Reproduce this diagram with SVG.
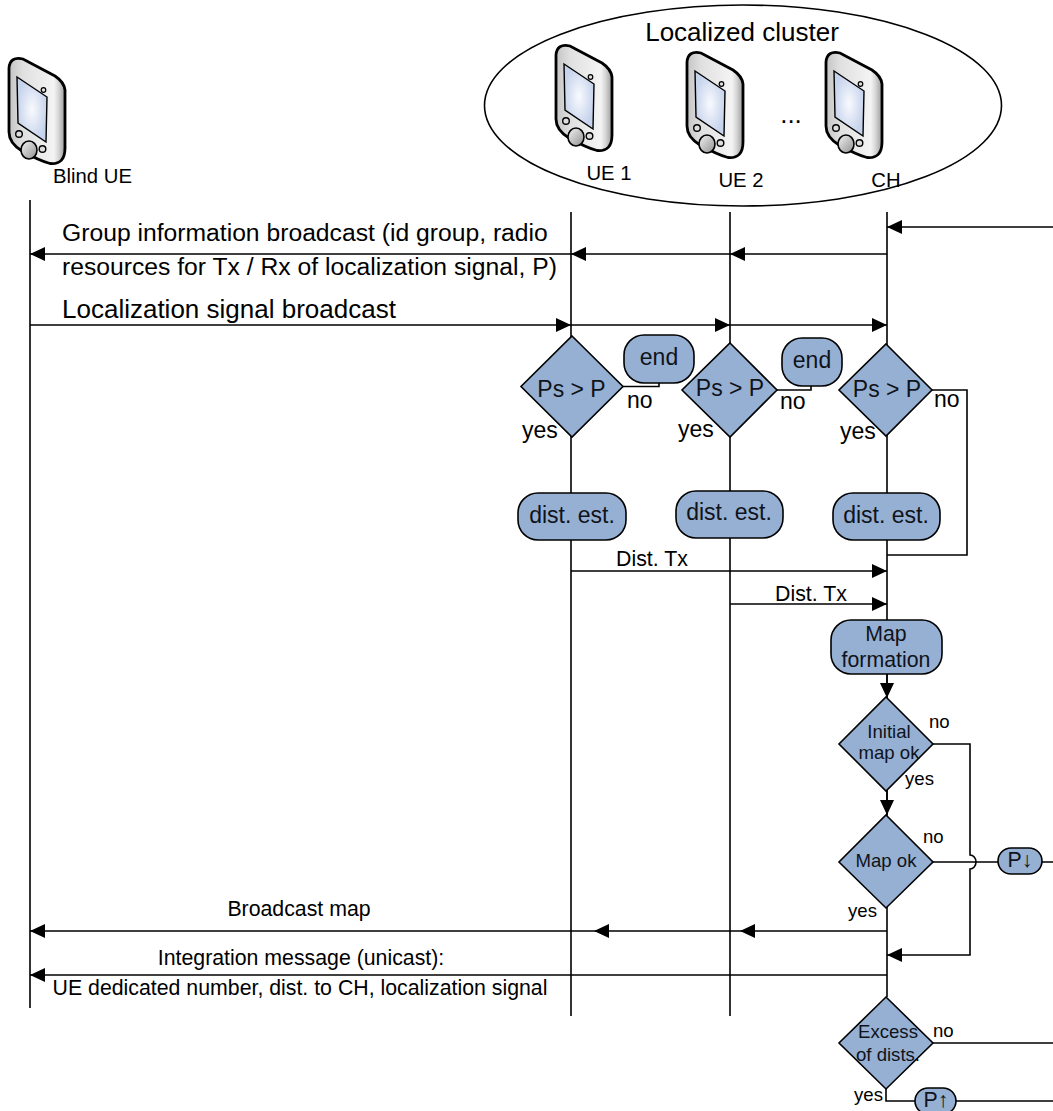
<svg xmlns="http://www.w3.org/2000/svg" width="1053" height="1111" viewBox="0 0 1053 1111">
<style>
text{font-family:"Liberation Sans",Arial,sans-serif;fill:#000}
.m{text-anchor:middle}
.f{fill:#95b0d3;stroke:#000;stroke-width:1.6}
.l{fill:none;stroke:#000;stroke-width:1.6}
.t{fill:#10131a}
.s26{font-size:26px}.s24{font-size:24.700px}.s23{font-size:23px}.s21{font-size:21.300px}.s20{font-size:20.300px}.s18{font-size:18.600px}
</style>
<defs>
<marker id="a" markerUnits="userSpaceOnUse" markerWidth="16" markerHeight="14" refX="15" refY="7" orient="auto"><path d="M0,0L15,7L0,14Z" fill="#000"/></marker>
<linearGradient id="body" x1="0" y1="0" x2="1" y2="0"><stop offset="0" stop-color="#c4c4c4"/><stop offset=".25" stop-color="#e0e0e0"/><stop offset=".8" stop-color="#f4f4f4"/><stop offset=".88" stop-color="#d8d8d8"/><stop offset="1" stop-color="#9c9c9c"/></linearGradient>
<radialGradient id="scr"><stop offset="0" stop-color="#f8fafe"/><stop offset="1" stop-color="#c6d3ec"/></radialGradient>
<linearGradient id="btn" x1="0" y1="0" x2="1" y2="1"><stop offset="0" stop-color="#f4f4f4"/><stop offset="1" stop-color="#8f8f8f"/></linearGradient>
<g id="phone">
<path d="M9,68Q10,56 23,59L55,76Q64,82 65,90V148Q65,165 50,163.500Q40,161 22,151Q9,143 9,132Z" fill="url(#body)" stroke="#000" stroke-width="2.800"/>
<path d="M17,77L47,97L46,142L18,123Z" fill="url(#scr)" stroke="#000" stroke-width="1.400"/>
<ellipse cx="29" cy="150" rx="8" ry="9" fill="url(#btn)" stroke="#000" stroke-width="1.600"/>
<circle cx="19" cy="134" r="3.300" fill="#ddd" stroke="#000" stroke-width="1.400"/>
<circle cx="42.500" cy="149" r="3.300" fill="#ddd" stroke="#000" stroke-width="1.400"/>
<circle cx="43.500" cy="90" r="2.300" fill="#ddd" stroke="#000" stroke-width="1.200"/>
</g>
</defs>
<rect width="1053" height="1111" fill="#fff"/>
<g id="connectors">
<path class="l" d="M30,200V1008M571,212V1016M730,212V1016M887,212V997"/>
<path class="l" d="M1053,227H887" marker-end="url(#a)"/>
<path class="l" d="M887,254H730" marker-end="url(#a)"/>
<path class="l" d="M730,254H571" marker-end="url(#a)"/>
<path class="l" d="M571,254H30" marker-end="url(#a)"/>
<path class="l" d="M30,325H571" marker-end="url(#a)"/>
<path class="l" d="M571,325H730" marker-end="url(#a)"/>
<path class="l" d="M730,325H887" marker-end="url(#a)"/>
<path class="l" d="M623,386.500H659V383"/>
<path class="l" d="M777,390H811V386"/>
<path class="l" d="M932,390H967V555H887"/>
<path class="l" d="M571,571H887" marker-end="url(#a)"/>
<path class="l" d="M730,604H887" marker-end="url(#a)"/>
<path class="l" d="M887,674V698" marker-end="url(#a)"/>
<path class="l" d="M887,791V815" marker-end="url(#a)"/>
<path class="l" d="M933,744H970V855A6,7 0 0 1 970,869V955H887" marker-end="url(#a)"/>
<path class="l" d="M933,862H998M1042,862H1053"/>
<path class="l" d="M887,931H740" marker-end="url(#a)"/>
<path class="l" d="M740,931H594" marker-end="url(#a)"/>
<path class="l" d="M594,931H30" marker-end="url(#a)"/>
<path class="l" d="M887,975H30" marker-end="url(#a)"/>
<path class="l" d="M933,1043H1053"/>
<path class="l" d="M886,1089V1101H915M956,1101H1053"/>
</g>
<g id="cluster"><ellipse cx="743" cy="105.500" rx="258.500" ry="100.500" fill="#fff" stroke="#000" stroke-width="1.600"/><text class="m s26" x="742" y="41">Localized cluster</text><text class="m s26" x="791" y="123">...</text></g>
<g id="blind-ue"><use href="#phone"/><text class="s20" x="53" y="183">Blind UE</text></g>
<g id="ue1"><use href="#phone" x="547" y="-13"/><text class="m s20" x="609" y="180">UE 1</text></g>
<g id="ue2"><use href="#phone" x="678" y="-6"/><text class="m s20" x="741" y="187">UE 2</text></g>
<g id="ch"><use href="#phone" x="817" y="-6"/><text class="m s20" x="886" y="187">CH</text></g>
<g id="labels">
<text class="s24" x="62" y="241">Group information broadcast (id group, radio</text>
<text class="s24" x="62" y="275">resources for Tx / Rx of localization signal, P)</text>
<text class="s26" x="62" y="318">Localization signal broadcast</text>
<text class="m s21" x="652" y="566">Dist. Tx</text>
<text class="m s21" x="811" y="601">Dist. Tx</text>
<text class="m s21" x="299" y="916">Broadcast map</text>
<text class="m s21" x="301" y="965">Integration message (unicast):</text>
<text class="m s21" x="300" y="995">UE dedicated number, dist. to CH, localization signal</text>
<text class="s23" x="627" y="408">no</text><text class="s23" x="780" y="409">no</text><text class="s23" x="934" y="407">no</text>
<text class="s23" x="522" y="438">yes</text><text class="s23" x="678" y="437">yes</text><text class="s23" x="840" y="439">yes</text>
<text class="s18" x="929" y="728">no</text><text class="s18" x="905" y="785">yes</text><text class="s18" x="923" y="843">no</text><text class="s18" x="848" y="917">yes</text>
<text class="s18" x="933" y="1037">no</text><text class="s18" x="854" y="1101">yes</text>
</g>
<g id="d1"><path class="f" d="M572,336L623,386.500L572,437L521,386.500Z"/><text class="m s23 t" x="571.500" y="397">Ps &gt; P</text></g>
<g id="d2"><path class="f" d="M730,343L777,390L730,437L682,390Z"/><text class="m s23 t" x="730" y="396">Ps &gt; P</text></g>
<g id="d3"><path class="f" d="M886,344L932,390L886,436L839,390Z"/><text class="m s23 t" x="887" y="397">Ps &gt; P</text></g>
<g id="end1"><rect class="f" x="624" y="335" width="70" height="48" rx="20"/><text class="m s23 t" x="659" y="365">end</text></g>
<g id="end2"><rect class="f" x="782" y="338" width="60" height="48" rx="20"/><text class="m s23 t" x="812" y="368">end</text></g>
<g id="est1"><rect class="f" x="518" y="493" width="108" height="47" rx="20"/><text class="m s23 t" x="572" y="523">dist. est.</text></g>
<g id="est2"><rect class="f" x="676" y="491" width="107" height="47" rx="20"/><text class="m s23 t" x="729" y="520">dist. est.</text></g>
<g id="est3"><rect class="f" x="833" y="493" width="107" height="47" rx="20"/><text class="m s23 t" x="886" y="523">dist. est.</text></g>
<g id="map"><rect class="f" x="831" y="620" width="111" height="54" rx="20"/><text class="m s21 t" x="886" y="641">Map</text><text class="m s21 t" x="886" y="667">formation</text></g>
<g id="d4"><path class="f" d="M886,697L933,744L886,791L839,744Z"/><text class="m s18 t" x="889" y="738">Initial</text><text class="m s18 t" x="889" y="759">map ok</text></g>
<g id="d5"><path class="f" d="M886,815L933,862L886,908L839,862Z"/><text class="m s18 t" x="886" y="867">Map ok</text></g>
<g id="p-down"><rect class="f" x="998" y="848" width="44" height="26" rx="13"/><text class="m s21 t" x="1020" y="867">P↓</text></g>
<g id="d6"><path class="f" d="M886,997L933,1043L886,1089L839,1043Z"/><text class="m s18 t" x="888" y="1038">Excess</text><text class="m s18 t" x="888" y="1061">of dists.</text></g>
<g id="p-up"><rect class="f" x="915" y="1088" width="41" height="26" rx="13"/><text class="m s21 t" x="936" y="1107">P↑</text></g>
</svg>
